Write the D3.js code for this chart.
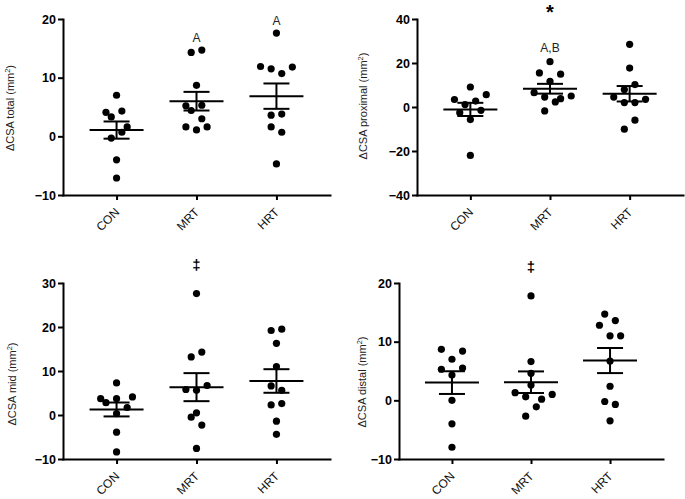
<!DOCTYPE html>
<html>
<head>
<meta charset="utf-8">
<script src="https://cdn.jsdelivr.net/npm/d3@7"></script>
<style>
  html, body { margin: 0; padding: 0; background: #fff; }
  svg { display: block; }
  text { font-family: Arial, "Liberation Sans", sans-serif; }
</style>
</head>
<body>
<svg id="chart" width="685" height="499"></svg>
<script>
// ---------------- DATA ----------------
const categories = ["CON", "MRT", "HRT"];

// ΔCSA total
const totalCON = [7.0, 4.1, 4.3, 3.3, 1.6, 0.7, -0.3, -4.0, -7.1];
const totalMRT = [14.3, 14.7, 8.7, 5.2, 5.3, 4.4, 3.0, 1.6, 1.1, 1.6];
const totalHRT = [17.6, 11.9, 11.5, 10.7, 11.8, 3.6, 3.8, 1.6, 0.7, -4.7];
// scatter column slots (GraphPad-style side-by-side placement)
const totalCONSlot = [0, -2, 1, -1, 2, 1, -1, 0, 0];
const totalMRTSlot = [-1, 1, 0, -2, 1, -1, 1, -2, 0, 2];
const totalHRTSlot = [0, -3, -1, 1, 3, -1, 1, -1, 1, 0];

// ΔCSA proximal
const proxCON = [9.1, 3.4, 5.6, 1.1, 2.7, -1.5, -2.6, -5.7, -22.0];
const proxMRT = [20.6, 15.5, 14.9, 11.7, 6.5, 4.5, 2.3, 3.8, 5.0, -1.8];
const proxHRT = [28.5, 17.7, 10.2, 7.9, 4.5, 3.5, 2.0, 2.0, -6.0, -10.1];
const proxCONSlot = [0, -3, 3, -1, 1, 2, -2, 0, 0];
const proxMRTSlot = [0, -2, 2, 0, -3, -1, 1, 2, 4, -1];
const proxHRTSlot = [0, 0, 1, -1, -3, 3, -1, 1, 1, -1];

// ΔCSA mid
const midCON = [7.3, 3.7, 2.8, 3.7, 1.7, 4.1, 0.3, -3.9, -8.4];
const midMRT = [27.6, 13.2, 14.3, 5.8, 5.6, 6.7, 0.5, -0.5, -2.3, -7.6];
const midHRT = [19.2, 19.5, 16.3, 11.0, 6.6, 5.6, 2.3, 2.6, -1.4, -4.4];
const midCONSlot = [0, -3, -2, 0, 2, 3, 0, 0, 0];
const midMRTSlot = [0, -1, 1, -2, 0, 2, 0, -1, 1, 0];
const midHRTSlot = [-1, 1, 0, 0, -1, 1, -1, 1, 0, 0];

// ΔCSA distal
const distCON = [8.7, 8.4, 7.0, 5.3, 5.5, 4.3, 0.0, -4.0, -8.0];
const distMRT = [17.8, 6.6, 4.6, 2.6, 1.3, 0.6, 0.2, 1.0, -1.1, -2.7];
const distHRT = [14.7, 12.8, 13.6, 11.0, 11.0, 6.7, 2.4, -0.2, -0.7, -3.5];
const distCONSlot = [-2, 2, 0, -2, 2, 0, 0, 0, 0];
const distMRTSlot = [0, 0, 0, 0, -3, -1, 2, 4, 1, -1];
const distHRTSlot = [-1, -2, 1, 0, 2, 0, 0, -1, 1, 0];

// y tick labels
const ticksTotal = [-10, 0, 10, 20];
const ticksProx = [-40, -20, 0, 20, 40];
const ticksMid = [-10, 0, 10, 20, 30];
const ticksDist = [-10, 0, 10, 20];

// axis titles (region names)
const titleTotal = "total", titleProx = "proximal", titleMid = "mid", titleDist = "distal";

// significance annotations: [category, text, value-level]
const annotTotal = [["MRT", "A", 16.0], ["HRT", "A", 19.0]];
const annotProx = [["MRT", "*", 40.0], ["MRT", "A,B", 25.0]];
const annotMid = [["MRT", "\u2021", 33.0]];
const annotDist = [["MRT", "\u2021", 21.9]];

// ---------------- LAYOUT ----------------
const panels = [
  { title: titleTotal, groups: [totalCON, totalMRT, totalHRT], slots: [totalCONSlot, totalMRTSlot, totalHRTSlot],
    ticks: ticksTotal, annot: annotTotal, x0: 63, x1: 330, yTop: 19, yBot: 195, labelX: 14, labelY: 108 },
  { title: titleProx, groups: [proxCON, proxMRT, proxHRT], slots: [proxCONSlot, proxMRTSlot, proxHRTSlot],
    ticks: ticksProx, annot: annotProx, x0: 417, x1: 683, yTop: 19, yBot: 195, labelX: 367, labelY: 106 },
  { title: titleMid, groups: [midCON, midMRT, midHRT], slots: [midCONSlot, midMRTSlot, midHRTSlot],
    ticks: ticksMid, annot: annotMid, x0: 63, x1: 330, yTop: 283, yBot: 459, labelX: 16, labelY: 384 },
  { title: titleDist, groups: [distCON, distMRT, distHRT], slots: [distCONSlot, distMRTSlot, distHRTSlot],
    ticks: ticksDist, annot: annotDist, x0: 399, x1: 663, yTop: 283, yBot: 459, labelX: 366, labelY: 382 }
];

const R = 3.6;          // dot radius
const SLOT = 5.3;       // horizontal slot spacing
const MEAN_HW = 27;     // mean line half-width
const SEM_HW = 13;      // SEM cap half-width
const STROKE = 2;

const svg = d3.select("#chart");

panels.forEach(p => {
  const g = svg.append("g");
  const x = d3.scalePoint().domain(categories).range([p.x0, p.x1]).padding(0.67);
  const y = d3.scaleLinear().domain(d3.extent(p.ticks)).range([p.yBot, p.yTop]);

  // Y axis
  const ya = g.append("g").attr("transform", `translate(${p.x0},0)`)
    .call(d3.axisLeft(y).tickValues(p.ticks).tickSize(5).tickSizeOuter(0).tickPadding(2).tickFormat(d3.format("d")));
  ya.select(".domain").attr("stroke", "#000").attr("stroke-width", STROKE).attr("stroke-linecap", "square");
  ya.selectAll(".tick line").attr("stroke", "#000").attr("stroke-width", STROKE);
  ya.selectAll(".tick text").attr("fill", "#000").attr("font-size", "12.5px").attr("font-weight", "bold")
    .attr("font-family", "Arial, 'Liberation Sans', sans-serif");

  // X axis
  const xa = g.append("g").attr("transform", `translate(0,${p.yBot})`)
    .call(d3.axisBottom(x).tickSize(5).tickSizeOuter(0));
  xa.select(".domain").attr("stroke", "#000").attr("stroke-width", STROKE).attr("stroke-linecap", "square");
  xa.selectAll(".tick line").attr("stroke", "#000").attr("stroke-width", STROKE);
  xa.selectAll(".tick text")
    .attr("fill", "#111").attr("font-size", "12px")
    .attr("font-family", "Arial, 'Liberation Sans', sans-serif")
    .attr("text-anchor", "end")
    .attr("x", -10.6).attr("y", 14.8).attr("dy", 0)
    .attr("transform", "rotate(-45)");

  // Y axis title
  const t = g.append("text")
    .attr("transform", `translate(${p.labelX},${p.labelY}) rotate(-90)`)
    .attr("text-anchor", "middle")
    .attr("font-size", "11px").attr("fill", "#222");
  t.append("tspan").text("\u0394CSA " + p.title + " (mm");
  t.append("tspan").attr("font-size", "7.5px").attr("dy", -4.5).text("2");
  t.append("tspan").attr("dy", 4.5).text(")");

  // groups
  categories.forEach((c, i) => {
    const vals = p.groups[i];
    const slots = p.slots[i];
    const cx = x(c);
    // dots
    g.append("g").selectAll("circle").data(vals).join("circle")
      .attr("cx", (d, j) => cx + slots[j] * SLOT)
      .attr("cy", d => y(d))
      .attr("r", R)
      .attr("fill", "#000");
    // mean & SEM
    const m = d3.mean(vals);
    const sem = d3.deviation(vals) / Math.sqrt(vals.length);
    const lg = g.append("g").attr("stroke", "#000").attr("stroke-width", STROKE).attr("fill", "none");
    lg.append("line").attr("x1", cx - MEAN_HW).attr("x2", cx + MEAN_HW).attr("y1", y(m)).attr("y2", y(m));
    lg.append("line").attr("x1", cx).attr("x2", cx).attr("y1", y(m + sem)).attr("y2", y(m - sem));
    lg.append("line").attr("x1", cx - SEM_HW).attr("x2", cx + SEM_HW).attr("y1", y(m + sem)).attr("y2", y(m + sem));
    lg.append("line").attr("x1", cx - SEM_HW).attr("x2", cx + SEM_HW).attr("y1", y(m - sem)).attr("y2", y(m - sem));
  });

  // annotations
  p.annot.forEach(([c, txt, v]) => {
    const isStar = txt === "*";
    const isDag = txt === "\u2021";
    g.append("text")
      .attr("x", x(c)).attr("y", y(v))
      .attr("text-anchor", "middle")
      .attr("font-size", isStar ? "20px" : (isDag ? "15px" : "12px"))
      .attr("font-weight", isStar || isDag ? "bold" : "normal")
      .attr("fill", isStar || isDag ? "#000" : "#222")
      .text(txt);
  });
});
</script>
</body>
</html>
